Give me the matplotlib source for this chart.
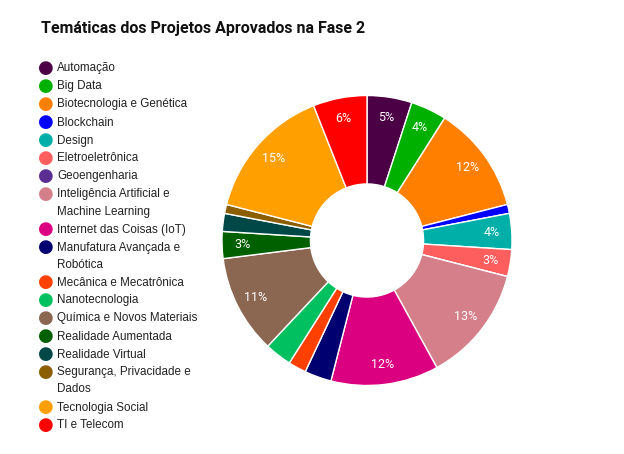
import numpy as np
import matplotlib
matplotlib.use("Agg")
import matplotlib.pyplot as plt

plt.rcParams['font.family'] = ['Roboto', 'DejaVu Sans']

categories = [
    "Automação", "Big Data", "Biotecnologia e Genética", "Blockchain", "Design",
    "Eletroeletrônica", "Geoengenharia", "Inteligência Artificial e\nMachine Learning",
    "Internet das Coisas (IoT)", "Manufatura Avançada e\nRobótica", "Mecânica e Mecatrônica",
    "Nanotecnologia", "Química e Novos Materiais", "Realidade Aumentada",
    "Realidade Virtual", "Segurança, Privacidade e\nDados", "Tecnologia Social", "TI e Telecom",
]
values = [5, 4, 12, 1, 4, 3, 0, 13, 12, 3, 2, 3, 11, 3, 2, 1, 15, 6]
colors = [
    "#4b0045", "#00b000", "#ff7f00", "#0000ff", "#00b0a8", "#ff5e5e", "#5b2e91",
    "#d47f8a", "#db0080", "#000070", "#ff4000", "#00c060", "#8b6650", "#006000",
    "#004848", "#8b5e00", "#ff9f00", "#ff0000",
]

fig = plt.figure(figsize=(6.24, 4.54), dpi=100)
fig.text(41 / 624, 1 - 28.5 / 454, "Temáticas dos Projetos Aprovados na Fase 2",
         fontsize=11.5, fontweight='bold', color='#111111', va='center', ha='left')

# pie: center (367, 240.5) px, radius 145 px
R_PX = 145
ax = fig.add_axes([(367 - R_PX) / 624, (454 - 240.5 - R_PX) / 454,
                   2 * R_PX / 624, 2 * R_PX / 454])
hole = 0.39
wedges, _ = ax.pie(values, colors=colors, startangle=90, counterclock=False,
                   radius=1, wedgeprops=dict(width=1 - hole, edgecolor='white', linewidth=1))
ax.set_xlim(-1, 1)
ax.set_ylim(-1, 1)
ax.set_aspect('equal')
ax.axis('off')

# labels only where the text fits in the slice
total = sum(values)
tw, th = 20 / R_PX, 12 / R_PX
r_lab = 0.86
for w, v in zip(wedges, values):
    if v == 0:
        continue
    dtheta = np.radians(w.theta2 - w.theta1)
    mid = np.radians((w.theta1 + w.theta2) / 2)
    need = tw * abs(np.sin(mid)) + th * abs(np.cos(mid))
    if dtheta * (1 + hole) / 2 < need:
        continue
    ax.text(r_lab * np.cos(mid), r_lab * np.sin(mid), f"{round(100 * v / total)}%",
            color='white', fontsize=9, ha='center', va='center')

# legend
y = 68
for name, c in zip(categories, colors):
    fig.text(46 / 624, 1 - y / 454, "●", color=c, fontsize=13, ha='center', va='center',
             family='DejaVu Sans')
    for i, line in enumerate(name.split("\n")):
        fig.text(57 / 624, 1 - (y + 3.5 + 17 * i) / 454, line, color='#222222',
                 fontsize=8.4, ha='left', va='baseline', family='Liberation Sans')
    y += 18 + 17 * name.count("\n")

fig.savefig("out.png", dpi=100)
